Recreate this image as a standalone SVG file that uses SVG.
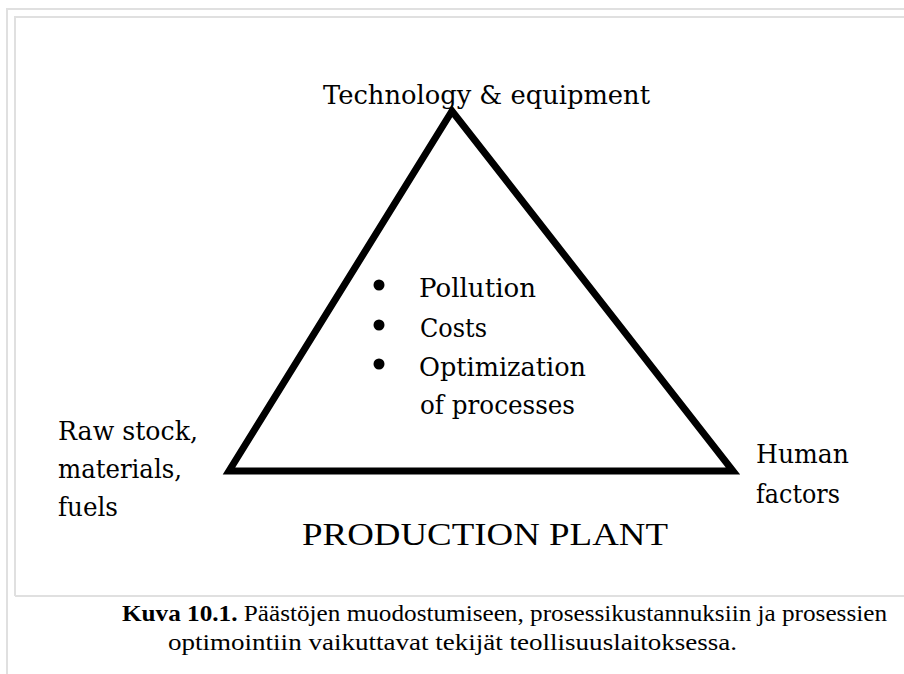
<svg xmlns="http://www.w3.org/2000/svg" width="904" height="674" viewBox="0 0 904 674">
<style>
text{fill:#000;}
.lbl{font-family:"DejaVu Serif","Liberation Serif",serif;font-size:26px;}
.big{font-family:"Liberation Serif","DejaVu Serif",serif;font-size:31px;}
.cap{font-family:"Liberation Serif","DejaVu Serif",serif;font-size:24px;}
.frame{stroke:#e0e0e0;stroke-width:2;fill:none;}
</style>
<rect width="904" height="674" fill="#fff"/>
<g id="frame">
<path class="frame" d="M7,674 V9 H904"/>
<path class="frame" d="M15,596 V17 H904"/>
<path class="frame" d="M15,596 H904"/>
</g>
<g id="triangle">
<polygon points="452,111 229,471 733,471" fill="none" stroke="#000" stroke-width="7" stroke-linejoin="miter"/>
</g>
<g id="top-label"><text class="lbl" x="323" y="104" textLength="327" lengthAdjust="spacingAndGlyphs">Technology &amp; equipment</text></g>
<g id="center">
<circle cx="379" cy="285" r="5.5"/>
<circle cx="379" cy="325" r="5.5"/>
<circle cx="379" cy="364" r="5.5"/>
<text class="lbl" x="419" y="297" textLength="117" lengthAdjust="spacingAndGlyphs">Pollution</text>
<text class="lbl" x="420" y="337" textLength="67" lengthAdjust="spacingAndGlyphs">Costs</text>
<text class="lbl" x="419" y="376" textLength="167" lengthAdjust="spacingAndGlyphs">Optimization</text>
<text class="lbl" x="420" y="414" textLength="155" lengthAdjust="spacingAndGlyphs">of processes</text>
</g>
<g id="left-label">
<text class="lbl" x="58" y="440" textLength="140" lengthAdjust="spacingAndGlyphs">Raw stock,</text>
<text class="lbl" x="58" y="478" textLength="124" lengthAdjust="spacingAndGlyphs">materials,</text>
<text class="lbl" x="58" y="516" textLength="60" lengthAdjust="spacingAndGlyphs">fuels</text>
</g>
<g id="right-label">
<text class="lbl" x="756" y="463" textLength="93" lengthAdjust="spacingAndGlyphs">Human</text>
<text class="lbl" x="756" y="503" textLength="84" lengthAdjust="spacingAndGlyphs">factors</text>
</g>
<g id="bottom-label"><text class="big" x="302" y="545" textLength="366" lengthAdjust="spacingAndGlyphs">PRODUCTION PLANT</text></g>
<g id="caption">
<text class="cap" x="122" y="621" textLength="765" lengthAdjust="spacingAndGlyphs"><tspan font-weight="bold">Kuva 10.1.</tspan> Päästöjen muodostumiseen, prosessikustannuksiin ja prosessien</text>
<text class="cap" x="168" y="650" textLength="569" lengthAdjust="spacingAndGlyphs">optimointiin vaikuttavat tekijät teollisuuslaitoksessa.</text>
</g>
</svg>
